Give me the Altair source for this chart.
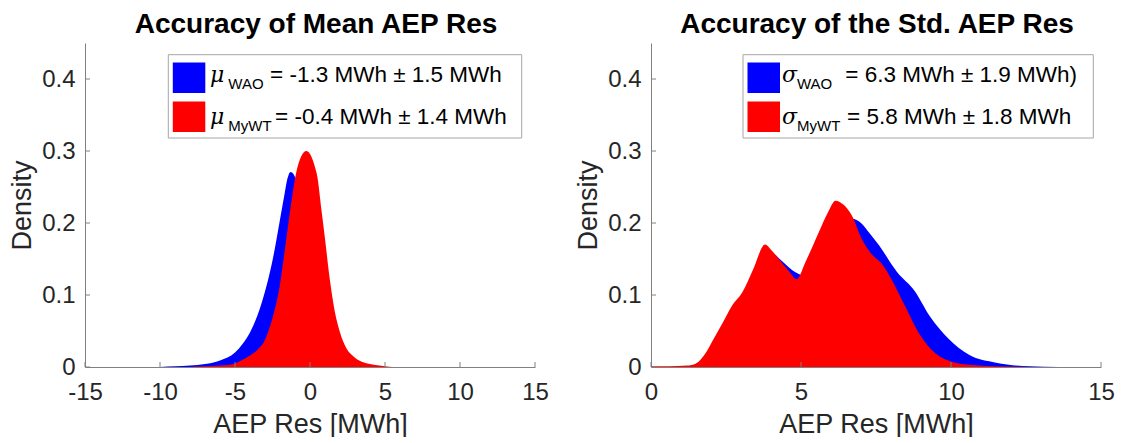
import altair as alt
import pandas as pd

# ---------------- data ----------------
# Left panel: accuracy of mean AEP residual
mean_wao_x = [-10, -9, -8, -7, -6, -5, -4.5, -4, -3.5, -3, -2.5, -2, -1.7, -1.5, -1.3,
              -1.1, -0.8, -0.5, 0, 0.5, 1, 1.5, 2, 3, 4, 5]
mean_wao_d = [0.0, 0.001, 0.002, 0.004, 0.009, 0.02, 0.032, 0.048, 0.072, 0.105, 0.148,
              0.205, 0.24, 0.262, 0.271, 0.268, 0.25, 0.22, 0.17, 0.115, 0.07, 0.04,
              0.02, 0.005, 0.001, 0.0]
mean_mywt_x = [-8, -7, -6, -5, -4.5, -4, -3.5, -3, -2.5, -2, -1.6, -1.3, -0.9, -0.6,
               -0.25, 0, 0.3, 0.5, 0.75, 1.0, 1.3, 1.6, 2.0, 2.4, 3, 3.5, 4, 5, 5.5]
mean_mywt_d = [0.0, 0.001, 0.002, 0.005, 0.01, 0.016, 0.024, 0.038, 0.068, 0.115, 0.175,
               0.221, 0.272, 0.292, 0.300, 0.296, 0.28, 0.263, 0.22, 0.178, 0.125,
               0.083, 0.048, 0.027, 0.013, 0.007, 0.004, 0.001, 0.0]

# Right panel: accuracy of std AEP residual
std_wao_x = [0, 0.6, 1.2, 1.5, 1.8, 2.1, 2.4, 2.7, 3.05, 3.4, 3.8, 4.0, 4.4, 4.8, 5.05,
             5.3, 5.6, 6.0, 6.4, 6.7, 7.0, 7.3, 7.6, 8.2, 8.8, 9.3, 9.9, 10.6, 11.5,
             12.6, 13.6]
std_wao_d = [0.0, 0.0, 0.001, 0.004, 0.016, 0.037, 0.058, 0.08, 0.1, 0.13, 0.163, 0.16,
             0.146, 0.132, 0.128, 0.138, 0.165, 0.193, 0.205, 0.206, 0.2, 0.185, 0.169,
             0.132, 0.105, 0.07, 0.04, 0.017, 0.006, 0.001, 0.0]
std_mywt_x = [0, 0.6, 1.2, 1.5, 1.8, 2.1, 2.4, 2.7, 3.05, 3.4, 3.8, 4.0, 4.3, 4.6, 4.85,
              5.15, 5.6, 5.9, 6.15, 6.4, 6.7, 7.0, 7.35, 7.7, 8.0, 8.45, 8.9, 9.35, 9.9,
              10.6, 11.5, 12.6]
std_mywt_d = [0.001, 0.001, 0.002, 0.005, 0.018, 0.04, 0.062, 0.085, 0.104, 0.135, 0.170,
              0.163, 0.148, 0.133, 0.122, 0.146, 0.188, 0.215, 0.231, 0.226, 0.21, 0.18,
              0.157, 0.143, 0.123, 0.086, 0.049, 0.024, 0.009, 0.003, 0.001, 0.0]

titles = ["Accuracy of Mean AEP Res", "Accuracy of the Std. AEP Res"]
x_title = "AEP Res [MWh]"
y_title = "Density"
left_xticks = [-15, -10, -5, 0, 5, 10, 15]
right_xticks = [0, 5, 10, 15]
yticks = [0, 0.1, 0.2, 0.3, 0.4]
series_colors = ["#0000FF", "#FF0000"]

left_symbol = "μ"
right_symbol = "σ"
subs = ["WAO", "MyWT"]
left_texts = ["= -1.3 MWh ± 1.5 MWh", "= -0.4 MWh ± 1.4 MWh"]
right_texts = ["= 6.3 MWh ± 1.9 MWh)", "= 5.8 MWh ± 1.8 MWh"]

# ---------------- styling ----------------
FONT = "Liberation Sans"
W, H = 450, 324
LABEL_C = "#262626"
DOMAIN_C = "#808080"


def legend_layers(symbol, texts, box_x0, box_x1, sym_x, sub_x, main_x):
    one = alt.Data(values=[{}])
    layers = [
        alt.Chart(one).mark_rect(fill="white", stroke="#a6a6a6", strokeWidth=1).encode(
            x=alt.value(box_x0), x2=alt.value(box_x1),
            y=alt.value(11.7), y2=alt.value(95))
    ]
    sw_x0 = box_x0 + 4.5
    for i in range(2):
        top = 19.4 + i * 39
        base = 38.5 + i * 42
        layers.append(alt.Chart(one).mark_rect(fill=series_colors[i]).encode(
            x=alt.value(sw_x0), x2=alt.value(sw_x0 + 32.5),
            y=alt.value(top), y2=alt.value(top + 30.5)))
        layers.append(alt.Chart(one).mark_text(
            font="DejaVu Serif", fontStyle="italic", fontSize=22, align="left",
            baseline="alphabetic", color="black").encode(
            x=alt.value(sym_x), y=alt.value(base), text=alt.value(symbol)))
        layers.append(alt.Chart(one).mark_text(
            font=FONT, fontSize=15, align="left", baseline="alphabetic",
            color="black").encode(
            x=alt.value(sub_x), y=alt.value(base + 7.5), text=alt.value(subs[i])))
        layers.append(alt.Chart(one).mark_text(
            font=FONT, fontSize=22.5, align="left", baseline="alphabetic",
            color="black").encode(
            x=alt.value(main_x[i]), y=alt.value(base), text=alt.value(texts[i])))
    return layers


def panel(title, title_dx, xdom, xticks, bx, bd, rx, rd, legend):
    xs = alt.Scale(domain=xdom, nice=False, zero=False)
    ys = alt.Scale(domain=[0, 0.45], nice=False)
    xaxis = alt.Axis(values=xticks, title=x_title, labelExpr="toString(datum.value)",
                     labelFlush=False, labelPadding=13, titlePadding=7)
    yaxis = alt.Axis(values=yticks, title=y_title, labelExpr="toString(datum.value)",
                     labelFlush=False, labelPadding=10, titlePadding=5)
    blue = alt.Chart(pd.DataFrame({"x": bx, "d": bd})).mark_area(
        color=series_colors[0], interpolate="monotone").encode(
        x=alt.X("x:Q", scale=xs, axis=xaxis),
        y=alt.Y("d:Q", scale=ys, axis=yaxis))
    red = alt.Chart(pd.DataFrame({"x": rx, "d": rd})).mark_area(
        color=series_colors[1], interpolate="monotone").encode(
        x=alt.X("x:Q", scale=xs), y=alt.Y("d:Q", scale=ys))
    xt = alt.Chart(pd.DataFrame({"t": xticks})).mark_rule(color=DOMAIN_C, strokeWidth=1).encode(
        x=alt.X("t:Q", scale=xs), y=alt.value(H), y2=alt.value(H - 5))
    yt = alt.Chart(pd.DataFrame({"t": yticks})).mark_rule(color=DOMAIN_C, strokeWidth=1).encode(
        y=alt.Y("t:Q", scale=ys), x=alt.value(0), x2=alt.value(5))
    return alt.layer(blue, red, xt, yt, *legend).properties(
        width=W, height=H,
        title=alt.TitleParams(title, font=FONT, fontSize=28, fontWeight="bold",
                              color="black", anchor="middle", offset=4, dx=title_dx))


left = panel(titles[0], 6, [-15, 15], left_xticks, mean_wao_x, mean_wao_d,
             mean_mywt_x, mean_mywt_d,
             legend_layers(left_symbol, left_texts, 83.3, 436.7, 125, 143.3, [185, 190]))
right = panel(titles[1], 1, [0, 15], right_xticks, std_wao_x, std_wao_d,
              std_mywt_x, std_mywt_d,
              legend_layers(right_symbol, right_texts, 92, 442.3, 131, 146, [194.3, 196]))

chart = alt.hconcat(left, right, spacing=116, bounds="flush").properties(
    padding={"top": 3, "left": 0, "right": 0, "bottom": 0}, background="white"
).configure_view(stroke=None).configure_axis(
    grid=False, ticks=False, domainColor=DOMAIN_C, domainWidth=1,
    labelFont=FONT, labelFontSize=24, labelColor=LABEL_C,
    titleFont=FONT, titleFontSize=27, titleFontWeight="normal", titleColor=LABEL_C
)

chart.save("out.html", embed_options={"renderer": "svg", "actions": False})
